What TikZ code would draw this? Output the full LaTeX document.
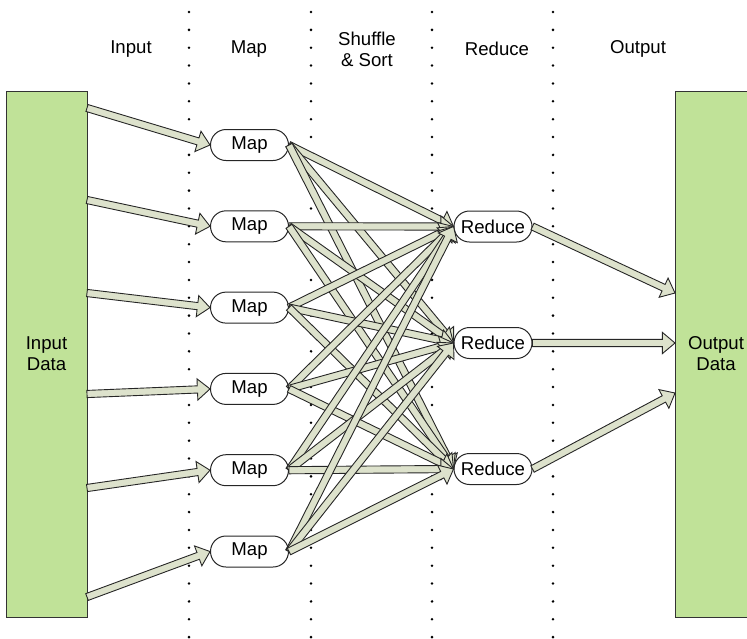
\documentclass[tikz,border=0pt]{standalone}
\usepackage{fontspec}
\setmainfont{Liberation Sans}
\usetikzlibrary{calc, shapes.misc}
\definecolor{datagreen}{RGB}{192,226,152}
\definecolor{flowfill}{RGB}{221,226,204}

\begin{document}
\begin{tikzpicture}[x=0.5pt, y=-0.5pt,
        font=\fontsize{9.3}{10.5}\selectfont,
        sep/.style={line width=1.4pt, line cap=round,
            dash pattern=on 0pt off 8.93pt},
        databox/.style={draw=black!80, fill=datagreen, line width=0.5pt,
            minimum width=40.5pt, minimum height=263pt, align=center},
        stage/.style={rounded rectangle, draw=black!85, fill=white,
            line width=0.5pt, minimum width=41pt, minimum height=15.5pt,
            inner sep=1pt},
        flow/.style={draw=black!85, fill=flowfill, line width=0.45pt,
            to path={
            ($(\tikztostart)!1.8pt!90:(\tikztotarget)$)
            -- ($(\tikztotarget)!6.3pt!(\tikztostart)!1.8pt!90:(\tikztotarget)$)
            -- ($(\tikztotarget)!6.3pt!(\tikztostart)!5.3pt!90:(\tikztotarget)$)
            -- (\tikztotarget)
            -- ($(\tikztotarget)!6.3pt!(\tikztostart)!5.3pt!-90:(\tikztotarget)$)
            -- ($(\tikztotarget)!6.3pt!(\tikztostart)!1.8pt!-90:(\tikztotarget)$)
            -- ($(\tikztostart)!1.8pt!-90:(\tikztotarget)$) -- cycle}}]
        \useasboundingbox (0, 0) rectangle (747, 638);
        \foreach \x in {189, 311, 432, 553}
            \draw[sep] (\x, 12) -- (\x, 640);
        \node (lInput) at (131, 49) {Input};
        \node (lMap) at (249, 49) {Map};
        \node[align=center] (lShuffle) at (367, 49) {Shuffle\\\& Sort};
        \node (lReduce) at (497, 49) {Reduce};
        \node (lOutput) at (638, 49) {Output};
        \node[databox] (indata) at (46.5, 354) {Input\\Data};
        \node[databox] (outdata) at (716, 354) {Output\\Data};
        \foreach \i in {1, ..., 6}
            \node[stage] (m\i) at (249.5, {145 + 81.3*(\i - 1)}) {Map};
        \node[stage] (r1) at (493, 226.5) {Reduce};
        \node[stage] (r2) at (493, 343) {Reduce};
        \node[stage] (r3) at (493, 469) {Reduce};
        \foreach \y [count=\i] in {108, 200, 293, 394, 488, 597}
            \coordinate (in\i) at (87, \y);
        \foreach \y [count=\i] in {293, 343, 393}
            \coordinate (out\i) at (675, \y);
        \foreach \i in {1, ..., 6}
            \draw[flow] (in\i) to (m\i.west);
        \foreach \i in {1, ..., 6}
            \foreach \j in {1, 2, 3}
                \draw[flow] (m\i.east) to (r\j.west);
        \foreach \j in {1, 2, 3}
            \draw[flow] (r\j.east) to (out\j);
    \end{tikzpicture}
\end{document}
